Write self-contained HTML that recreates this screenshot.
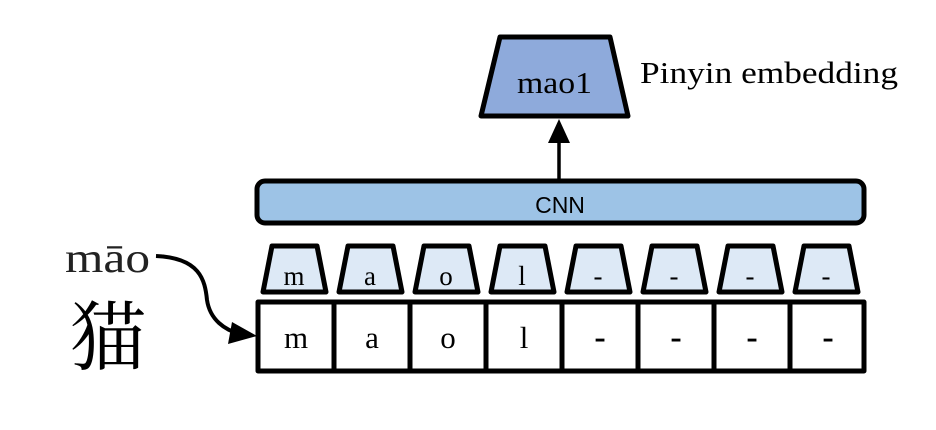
<!DOCTYPE html>
<html><head><meta charset="utf-8"><style>
body{margin:0;background:#fff;width:936px;height:425px;overflow:hidden}
</style></head><body>
<svg width="936" height="425" viewBox="0 0 936 425" xmlns="http://www.w3.org/2000/svg">
<polygon points="500,37 610,37 628,116 481,116" fill="#8eaadb" stroke="#000" stroke-width="5" stroke-linejoin="round"/>
<text x="517" y="93" font-family="Liberation Serif, serif" font-size="31" textLength="75" lengthAdjust="spacingAndGlyphs">mao1</text>
<text x="640" y="83" font-family="Liberation Serif, serif" font-size="31" textLength="258" lengthAdjust="spacingAndGlyphs">Pinyin embedding</text>
<line x1="559" y1="180" x2="559" y2="140" stroke="#000" stroke-width="3.5"/>
<polygon points="559,119 548,143 570,143" fill="#000"/>
<rect x="257" y="181" width="607" height="42" rx="8" fill="#9dc3e6" stroke="#000" stroke-width="5"/>
<text x="560" y="213" font-family="Liberation Sans, sans-serif" font-size="23" text-anchor="middle">CNN</text>
<g font-family="Liberation Serif, serif" stroke="#000" stroke-width="5" stroke-linejoin="round">
<polygon points="272,246 317,246 326,292 263,292" fill="#dde9f6"/>
<polygon points="348,246 393,246 402,292 339,292" fill="#dde9f6"/>
<polygon points="424,246 469,246 478,292 415,292" fill="#dde9f6"/>
<polygon points="500,246 545,246 554,292 491,292" fill="#dde9f6"/>
<polygon points="576,246 621,246 630,292 567,292" fill="#dde9f6"/>
<polygon points="652,246 697,246 706,292 643,292" fill="#dde9f6"/>
<polygon points="728,246 773,246 782,292 719,292" fill="#dde9f6"/>
<polygon points="804,246 849,246 858,292 795,292" fill="#dde9f6"/>
<rect x="258" y="302" width="606" height="69" fill="#fff"/>
<line x1="334" y1="302" x2="334" y2="371"/><line x1="410" y1="302" x2="410" y2="371"/>
<line x1="486" y1="302" x2="486" y2="371"/><line x1="562" y1="302" x2="562" y2="371"/>
<line x1="638" y1="302" x2="638" y2="371"/><line x1="714" y1="302" x2="714" y2="371"/>
<line x1="790" y1="302" x2="790" y2="371"/>
</g>
<g font-family="Liberation Serif, serif" font-size="27" text-anchor="middle">
<text x="294" y="285">m</text><text x="370" y="285">a</text><text x="446" y="285">o</text><text x="522" y="285">l</text>
<text x="598" y="285">-</text><text x="674" y="285">-</text><text x="750" y="285">-</text><text x="826" y="285">-</text>
</g>
<g font-family="Liberation Serif, serif" font-size="31" text-anchor="middle">
<text x="296" y="348">m</text><text x="372" y="348">a</text><text x="448" y="348">o</text><text x="524" y="348">l</text>
<text x="600" y="348" font-weight="bold" font-size="34">-</text><text x="676" y="348" font-weight="bold" font-size="34">-</text><text x="752" y="348" font-weight="bold" font-size="34">-</text><text x="828" y="348" font-weight="bold" font-size="34">-</text>
</g>
<text x="65" y="272" font-family="Liberation Serif, serif" font-size="42" fill="#222" textLength="85" lengthAdjust="spacingAndGlyphs">māo</text>
<text x="70" y="364" font-family="Liberation Serif, 'Noto Serif CJK SC', serif" font-size="76">猫</text>
<path d="M156,256 C200,258 205,280 207,300 C210,320 225,330 240,334" fill="none" stroke="#000" stroke-width="4"/>
<polygon points="257,336 232,322 228,344" fill="#000"/>
</svg>
</body></html>
